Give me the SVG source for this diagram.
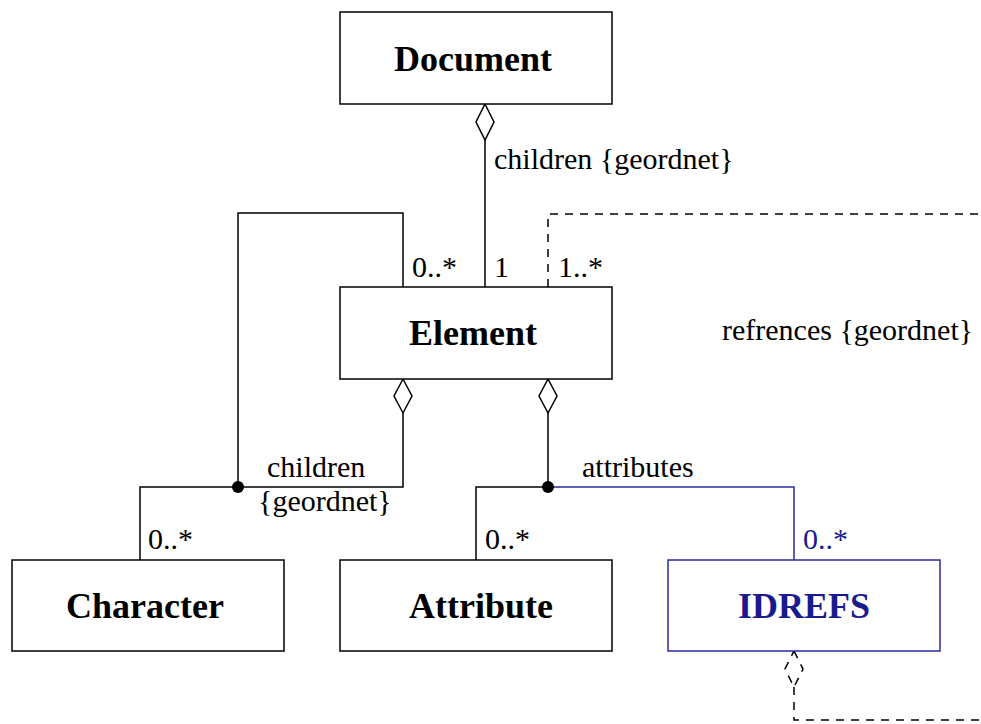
<svg xmlns="http://www.w3.org/2000/svg" width="981" height="724" viewBox="0 0 981 724">
<style>
.box{fill:#fff;stroke:#000;stroke-width:1.5}
.bbox{fill:#fff;stroke:#2a2aa0;stroke-width:1.5}
.title{font-family:"Liberation Serif","Times New Roman",serif;font-weight:bold;font-size:36px;text-anchor:middle;fill:#000}
.btitle{fill:#1a1a90}
.lbl{font-family:"Liberation Serif","Times New Roman",serif;font-size:30px;fill:#000}
.blbl{fill:#1a1a90}
.ln{fill:none;stroke:#000;stroke-width:1.5}
.bln{fill:none;stroke:#2a2aa0;stroke-width:1.5}
.dash{fill:none;stroke:#000;stroke-width:1.5;stroke-dasharray:8,7}
.dia{fill:#fff;stroke:#000;stroke-width:1.5}
</style>
<rect width="981" height="724" fill="#fff"/>
<g id="connectors">
  <polyline class="ln" points="485,140 485,287"/>
  <polygon class="dia" points="485,104 494,122 485,140 476,122"/>
  <text class="lbl" x="494" y="169">children {geordnet}</text>
  <text class="lbl" x="494" y="277">1</text>
  <polyline class="ln" points="403,287 403,213 238,213 238,487"/>
  <text class="lbl" x="412" y="277">0..*</text>
  <polyline class="ln" points="403,413 403,487 140,487 140,560"/>
  <polygon class="dia" points="403,379 412,396 403,413 394,396"/>
  <circle cx="238" cy="487" r="6" fill="#000"/>
  <text class="lbl" x="267" y="477">children</text>
  <text class="lbl" x="258" y="511">{geordnet}</text>
  <text class="lbl" x="148" y="549">0..*</text>
  <polyline class="ln" points="548,413 548,487 476,487 476,560"/>
  <polygon class="dia" points="548,379 557,396 548,413 539,396"/>
  <polyline class="bln" points="548,487 794,487 794,560"/>
  <circle cx="548" cy="487" r="6" fill="#000"/>
  <text class="lbl" x="582" y="477">attributes</text>
  <text class="lbl" x="485" y="549">0..*</text>
  <text class="lbl blbl" x="803" y="549">0..*</text>
  <polyline class="dash" points="548,287 548,214 981,214"/>
  <text class="lbl" x="558" y="277">1..*</text>
  <text class="lbl" x="722" y="340">refrences {geordnet}</text>
  <polygon class="dash" points="794,651 803,669 794,687 785,669"/>
  <polyline class="dash" points="794,687 794,720 981,720"/>
</g>
<g id="document">
  <rect class="box" x="340" y="12" width="272" height="92"/>
  <text class="title" x="473" y="71">Document</text>
</g>
<g id="element">
  <rect class="box" x="340" y="287" width="272" height="92"/>
  <text class="title" x="473" y="345">Element</text>
</g>
<g id="character">
  <rect class="box" x="12" y="560" width="272" height="91"/>
  <text class="title" x="145" y="618">Character</text>
</g>
<g id="attribute">
  <rect class="box" x="340" y="560" width="272" height="91"/>
  <text class="title" x="481" y="618">Attribute</text>
</g>
<g id="idrefs">
  <rect class="bbox" x="668" y="560" width="272" height="91"/>
  <text class="title btitle" x="804" y="618">IDREFS</text>
</g>
</svg>
